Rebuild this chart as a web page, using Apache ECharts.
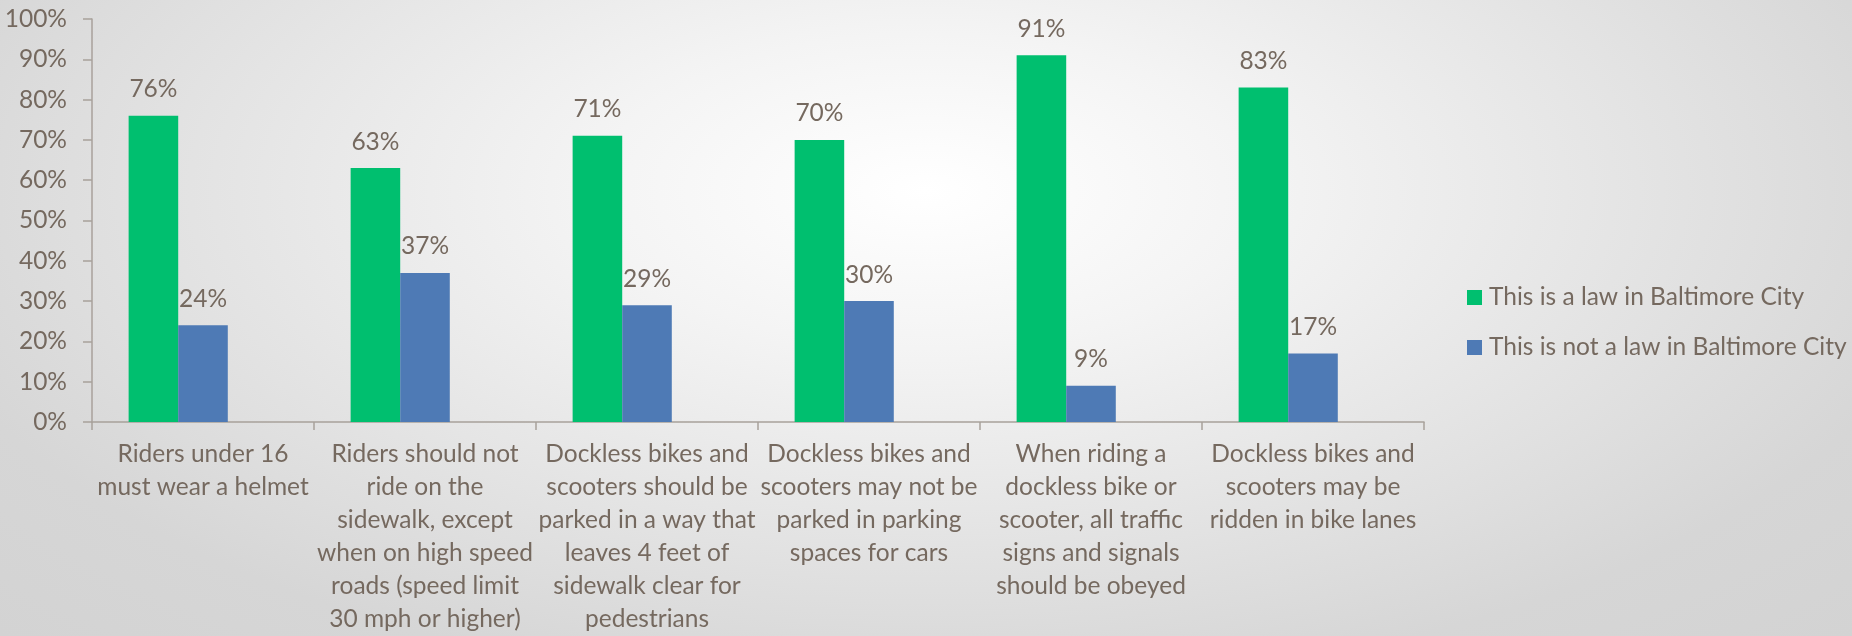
<!DOCTYPE html>
<html>
<head>
<meta charset="utf-8">
<script src="https://cdn.jsdelivr.net/npm/echarts@6/dist/echarts.min.js"></script>
<style>
  html, body { margin: 0; padding: 0; }
  body {
    width: 1852px; height: 636px; overflow: hidden;
    background: radial-gradient(ellipse farthest-corner at 50% 30%, #ffffff 0%, #f4f4f4 25%, #d6d6d6 80%, #d3d3d3 100%);
  }
  #chart { width: 1852px; height: 636px; }
</style>
</head>
<body>
<div id="chart"></div>
<script>
// Survey: which statements respondents believe are laws in Baltimore City
const categories = [
  'Riders under 16\nmust wear a helmet',
  'Riders should not\nride on the\nsidewalk, except\nwhen on high speed\nroads (speed limit\n30 mph or higher)',
  'Dockless bikes and\nscooters should be\nparked in a way that\nleaves 4 feet of\nsidewalk clear for\npedestrians',
  'Dockless bikes and\nscooters may not be\nparked in parking\nspaces for cars',
  'When riding a\ndockless bike or\nscooter, all traffic\nsigns and signals\nshould be obeyed',
  'Dockless bikes and\nscooters may be\nridden in bike lanes'
];
const isLaw = [76, 63, 71, 70, 91, 83];
const isNotLaw = [24, 37, 29, 30, 9, 17];
// third slot in each group is left empty
const emptySlot = [null, null, null, null, null, null];

const seriesNames = ['This is a law in Baltimore City', 'This is not a law in Baltimore City'];
const yTicks = { min: 0, max: 100, interval: 10 };

const textColor = '#75695f';
const axisColor = '#a8a19b';
const font = 'Lato';
const fontSize = 24.5;

const chart = echarts.init(document.getElementById('chart'), null, { renderer: 'canvas' });

const labelStyle = {
  show: true,
  position: 'top',
  distance: 14,
  formatter: '{c}%',
  color: textColor,
  fontFamily: font,
  fontSize: fontSize
};

chart.setOption({
  backgroundColor: 'transparent',
  animation: false,
  textStyle: { fontFamily: font },
  grid: { left: 92, right: 428, top: 19, bottom: 211, containLabel: false },
  legend: {
    data: seriesNames,
    orient: 'vertical',
    left: 1467,
    top: 285,
    padding: 0,
    itemWidth: 15,
    itemHeight: 15,
    itemGap: 25,
    icon: 'rect',
    textStyle: { color: textColor, fontFamily: font, fontSize: fontSize, lineHeight: 24, padding: [0, 0, 0, 2] }
  },
  xAxis: {
    type: 'category',
    data: categories,
    axisLine: { show: true, lineStyle: { color: axisColor, width: 1.5 } },
    axisTick: { show: true, alignWithLabel: false, length: 8, lineStyle: { color: axisColor, width: 1.5 } },
    axisLabel: {
      interval: 0,
      margin: 16,
      color: textColor,
      fontFamily: font,
      fontSize: fontSize,
      lineHeight: 33,
      align: 'center'
    },
    splitLine: { show: false }
  },
  yAxis: {
    type: 'value',
    min: yTicks.min,
    max: yTicks.max,
    interval: yTicks.interval,
    axisLine: { show: true, lineStyle: { color: axisColor, width: 1.5 } },
    axisTick: { show: true, length: 9, lineStyle: { color: axisColor, width: 1.5 } },
    axisLabel: {
      formatter: '{value}%',
      margin: 25,
      color: textColor,
      fontFamily: font,
      fontSize: fontSize
    },
    splitLine: { show: false }
  },
  series: [
    {
      name: seriesNames[0],
      type: 'bar',
      data: isLaw,
      barGap: '0%',
      barCategoryGap: '33%',
      itemStyle: { color: '#00bf6f' },
      label: labelStyle
    },
    {
      name: seriesNames[1],
      type: 'bar',
      data: isNotLaw,
      barGap: '0%',
      barCategoryGap: '33%',
      itemStyle: { color: '#4e7ab5' },
      label: labelStyle
    },
    {
      name: 'empty',
      type: 'bar',
      data: emptySlot,
      barGap: '0%',
      barCategoryGap: '33%',
      itemStyle: { color: 'transparent' },
      label: { show: false },
      silent: true
    }
  ]
});
</script>
</body>
</html>
